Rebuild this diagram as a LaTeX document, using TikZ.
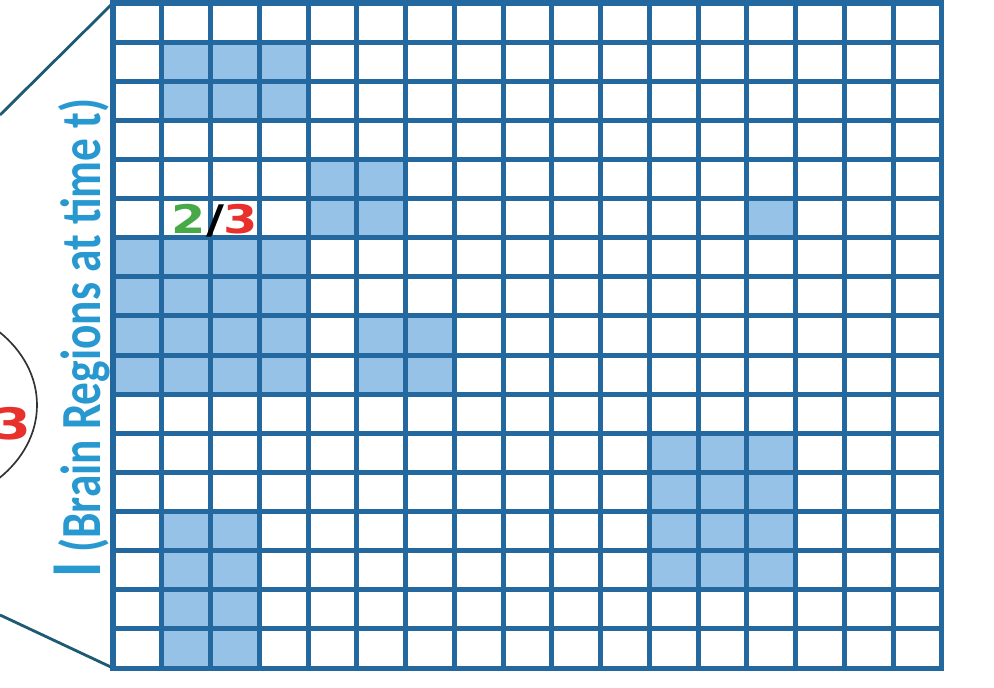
\documentclass[tikz,border=0pt]{standalone}
\usepackage{fontspec}
\usetikzlibrary{positioning}
\newfontfamily\labelfont{Carlito}
\newfontfamily\numfont{DejaVu Sans}
\definecolor{gridblue}{RGB}{36,104,160}
\definecolor{cellblue}{RGB}{150,194,232}
\definecolor{labelblue}{RGB}{40,152,208}
\definecolor{zoomteal}{RGB}{30,90,115}
\definecolor{numgreen}{RGB}{72,170,70}
\definecolor{numred}{RGB}{232,48,45}

\begin{document}
\begin{tikzpicture}[x=0.025cm,y=-0.025cm,gridline/.style={draw=gridblue,line width=3.6pt,line cap=rect},cell/.style={fill=cellblue},zoomline/.style={draw=zoomteal,line width=2pt},every node/.style={inner sep=0pt,outer sep=0pt}]
\useasboundingbox (0,0) rectangle (994,688);
\fill[white] (0,0) rectangle (994,688);
% lens on the left
\draw[black!80,line width=1.2pt] (-92.5,405) ellipse [x radius=129.5,y radius=103.6];
\coordinate(gtl) at (113,3);
\coordinate(gbl) at (113,668);
\coordinate(lt) at (0,115);
\coordinate(lb) at (0,615);
\draw[zoomline](lt)--(gtl);
\draw[zoomline](lb)--(gbl);
% grid of regions
\begin{scope}[shift={(113,3)},xscale=48.76,yscale=39.12]
\foreach \ca/\cb/\ra/\rb in {1/3/1/2,4/5/4/5,13/13/5/5,0/3/6/9,5/6/8/9,11/13/11/14,1/2/13/16}
  \fill[cell] (\ca,\ra) rectangle (\cb+1,\rb+1);
\foreach \i in {0,...,17}{
  \draw[gridline] (\i,0)--(\i,17);
  \draw[gridline] (0,\i)--(17,\i);
}
\end{scope}
% labels
\node(axislabel)[rotate=90,anchor=base west,text=labelblue] at (100,577) {\scalebox{0.8}[1]{\labelfont\bfseries{\fontsize{51}{51}\selectfont I}\hspace{8pt}\fontsize{40.3}{41}\selectfont(Brain Regions at time t)}};
\node(ratio) at (215,221) {\scalebox{1}[0.8]{\numfont\bfseries\fontsize{35}{35}\selectfont\textcolor{numgreen}{2}/\textcolor{numred}{3}}};
\node(ratioleft)[text=numred] at (12,424) {\scalebox{1}[0.8]{\numfont\bfseries\fontsize{38.5}{38}\selectfont 3}};
\end{tikzpicture}
\end{document}
